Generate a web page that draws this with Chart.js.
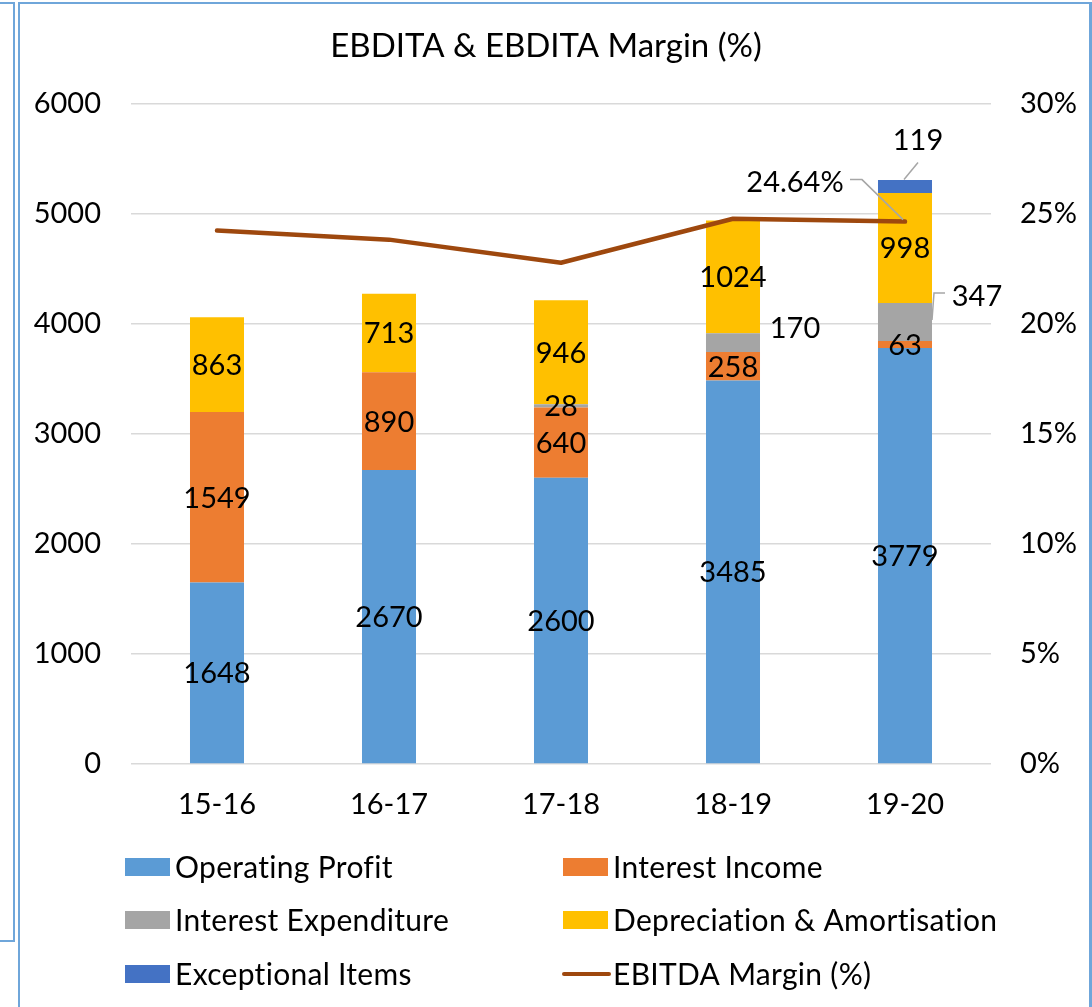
<!DOCTYPE html>
<html>
<head>
<meta charset="utf-8">
<title>EBDITA & EBDITA Margin (%)</title>
<script src="https://cdn.jsdelivr.net/npm/chart.js@4.4.0/dist/chart.umd.min.js"></script>
<style>
  html, body { margin: 0; padding: 0; background: #fff; }
  #wrap { position: relative; width: 1092px; height: 1007px; overflow: hidden; }
  #chart { position: absolute; left: 0; top: 0; }
  .frame { position: absolute; border: 2px solid #6FA6DA; box-sizing: border-box; pointer-events: none; }
</style>
</head>
<body>
<div id="wrap">
  <div class="frame" style="left:-10px; top:2px; width:25px; height:940px;"></div>
  <div class="frame" style="left:18px; top:2px; width:1074px; height:1030px; border-right-width:3px;"></div>
  <canvas id="chart" width="1092" height="1007"></canvas>
</div>
<script>
  // data
  const years = ['15-16', '16-17', '17-18', '18-19', '19-20'];
  const operatingProfit = [1648, 2670, 2600, 3485, 3779];
  const interestIncome = [1549, 890, 640, 258, 63];
  const interestExpenditure = [null, null, 28, 170, 347];
  const depreciation = [863, 713, 946, 1024, 998];
  const exceptionalItems = [null, null, null, null, 119];
  const ebitdaMargin = [24.23, 23.82, 22.77, 24.77, 24.64];

  const leftMax = 6000, leftStep = 1000;
  const rightMax = 30, rightStep = 5;

  const FONT = 'Lato';
  const TXT = '#000000';

  /*
    ============== label placement (style only) ==============
    key = datasetIndex:pointIndex, offsets in px from the mark
  */
  const callouts = {
    '2:3': { dx: 62, dy: -15 },
    '2:4': { dx: 72, dy: -26, leader: [[27, -2], [29, -29], [40, -29]] },
    '4:4': { dx: 13, dy: -47, leader: [[-1, -7], [13, -24]] },
    '5:4': { dx: -110, dy: -40, leader: [[-55, -42], [-43, -42], [-2, -2]] }
  };

  let dataLabels = {
    id: 'dataLabels',
    afterDatasetsDraw(chart) {
      const ctx = chart.ctx;
      ctx.save();
      ctx.font = '29px ' + FONT;
      ctx.textAlign = 'center';
      ctx.textBaseline = 'middle';
      chart.data.datasets.forEach((ds, di) => {
        const meta = chart.getDatasetMeta(di);
        meta.data.forEach((el, i) => {
          const v = ds.data[i];
          if (v === null || v === undefined) return;
          const key = di + ':' + i;
          const isLine = ds.type === 'line';
          if (isLine && !callouts[key]) return;
          const ax = el.x;
          const ay = isLine ? el.y : (el.y + el.base) / 2;
          const c = callouts[key] || { dx: 0, dy: 0 };
          if (c.leader) {
            ctx.beginPath();
            ctx.strokeStyle = '#A6A6A6';
            ctx.lineWidth = 1.5;
            c.leader.forEach((p, k) => {
              if (k === 0) ctx.moveTo(ax + p[0], ay + p[1]);
              else ctx.lineTo(ax + p[0], ay + p[1]);
            });
            ctx.stroke();
          }
          ctx.fillStyle = TXT;
          const txt = isLine ? v.toFixed(2) + '%' : String(v);
          ctx.fillText(txt, ax + c.dx, ay + c.dy + 1);
        });
      });
      ctx.restore();
    }
  };

  let gridLegend = {
    id: 'gridLegend',
    afterDraw(chart) {
      const ctx = chart.ctx;
      const area = chart.chartArea;
      const cols = [area.left - 6, area.left + 432];
      const rowY = [area.bottom + 103, area.bottom + 156, area.bottom + 210];
      ctx.save();
      ctx.font = '30px ' + FONT;
      ctx.letterSpacing = '0.3px';
      ctx.textAlign = 'left';
      ctx.textBaseline = 'middle';
      chart.data.datasets.forEach((ds, i) => {
        const x = cols[i % 2];
        const y = rowY[Math.floor(i / 2)];
        if (ds.type === 'line') {
          ctx.beginPath();
          ctx.strokeStyle = ds.borderColor;
          ctx.lineWidth = 4;
          ctx.lineCap = 'round';
          ctx.moveTo(x + 1, y);
          ctx.lineTo(x + 46, y);
          ctx.stroke();
        } else {
          ctx.fillStyle = ds.backgroundColor;
          ctx.fillRect(x, y - 9, 45, 18);
        }
        ctx.fillStyle = TXT;
        ctx.fillText(ds.label, x + 50, y + 1);
      });
      ctx.restore();
    }
  };

  let barDs = (label, data, color) => ({
    type: 'bar', label, data,
    backgroundColor: color,
    borderWidth: 0,
    yAxisID: 'y',
    order: 1,
    categoryPercentage: 1,
    barPercentage: 0.314
  });

  let chart = new Chart(document.getElementById('chart').getContext('2d'), {
    data: {
      labels: years,
      datasets: [
        barDs('Operating Profit', operatingProfit, '#5B9BD5'),
        barDs('Interest Income', interestIncome, '#ED7D31'),
        barDs('Interest Expenditure', interestExpenditure, '#A5A5A5'),
        barDs('Depreciation & Amortisation', depreciation, '#FFC000'),
        barDs('Exceptional Items', exceptionalItems, '#4472C4'),
        {
          type: 'line',
          label: 'EBITDA Margin (%)',
          data: ebitdaMargin,
          borderColor: '#9E480E',
          backgroundColor: '#9E480E',
          borderWidth: 4.5,
          borderCapStyle: 'round',
          borderJoinStyle: 'round',
          pointRadius: 0,
          tension: 0,
          yAxisID: 'y1',
          order: 0
        }
      ]
    },
    options: {
      responsive: false,
      animation: false,
      layout: { padding: 0 },
      plugins: {
        legend: { display: false },
        tooltip: { enabled: false },
        title: {
          display: true,
          text: 'EBDITA & EBDITA Margin (%)',
          color: TXT,
          font: { family: FONT, size: 33, weight: 'normal', lineHeight: 1.2 },
          padding: { top: 27, bottom: 37 }
        }
      },
      scales: {
        x: {
          stacked: true,
          grid: { display: false, drawTicks: false },
          border: { display: false },
          ticks: { color: TXT, font: { family: FONT, size: 29 }, padding: 23 },
          afterFit: s => { s.height = 243; }
        },
        y: {
          stacked: true,
          position: 'left',
          min: 0, max: leftMax,
          grid: { color: '#D9D9D9', lineWidth: 1.5, drawTicks: false },
          border: { display: false },
          ticks: {
            stepSize: leftStep, color: TXT, font: { family: FONT, size: 29 }, padding: 30,
            callback: v => String(v)
          },
          afterFit: s => { s.width = 131; }
        },
        y1: {
          position: 'right',
          min: 0, max: rightMax,
          grid: { display: false, drawTicks: false },
          border: { display: false },
          ticks: {
            stepSize: rightStep, color: TXT, font: { family: FONT, size: 29 }, padding: 29,
            callback: v => v + '%'
          },
          afterFit: s => { s.width = 101; }
        }
      }
    },
    plugins: [dataLabels, gridLegend]
  });
</script>
</body>
</html>
